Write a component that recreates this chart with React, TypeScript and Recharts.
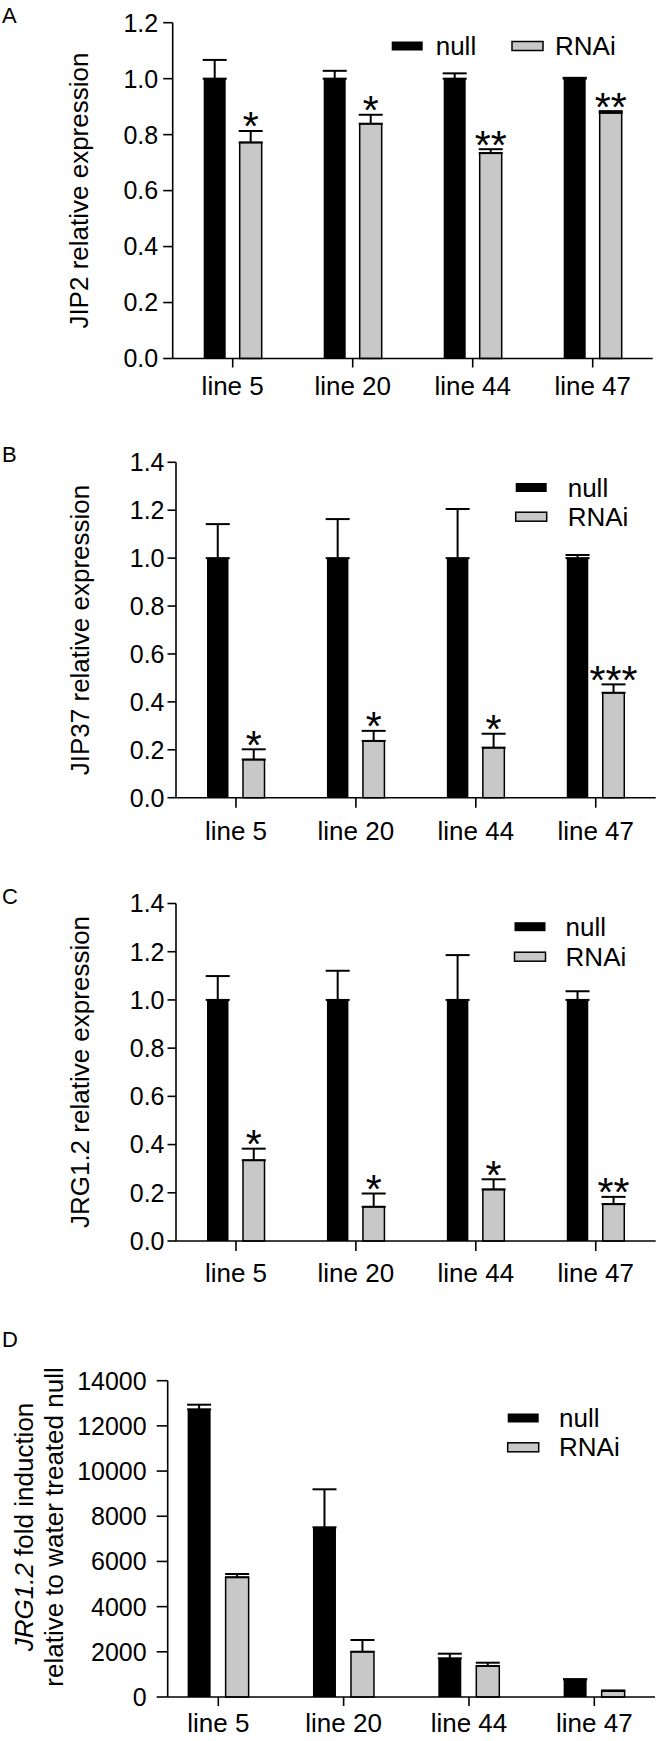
import React from 'react';
import { BarChart, Bar, XAxis, YAxis, ErrorBar, LabelList, Legend } from 'recharts';

const FONT = '"Liberation Sans", Arial, Helvetica, sans-serif';
const W = 657;
const GRAY = '#c8c8c8';

// ---------- data ----------
const categories = ['line 5', 'line 20', 'line 44', 'line 47'];
const seriesNames = ['null', 'RNAi'];

// Panel A – JIP2
const jip2Null = [1.0, 1.0, 1.0, 1.0];
const jip2NullErr = [0.067, 0.028, 0.019, 0.003];
const jip2Rnai = [0.772, 0.839, 0.734, 0.878];
const jip2RnaiErr = [0.041, 0.032, 0.014, 0.006];
const jip2Stars = ['*', '*', '**', '**'];

// Panel B – JIP37
const jip37Null = [1.0, 1.0, 1.0, 1.0];
const jip37NullErr = [0.142, 0.163, 0.205, 0.013];
const jip37Rnai = [0.159, 0.237, 0.209, 0.438];
const jip37RnaiErr = [0.043, 0.042, 0.058, 0.035];
const jip37Stars = ['*', '*', '*', '***'];

// Panel C – JRG1.2
const jrgNull = [1.0, 1.0, 1.0, 1.0];
const jrgNullErr = [0.099, 0.121, 0.186, 0.036];
const jrgRnai = [0.335, 0.142, 0.214, 0.153];
const jrgRnaiErr = [0.048, 0.055, 0.042, 0.03];
const jrgStars = ['*', '*', '*', '**'];

// Panel D – JRG1.2 fold induction
const foldNull = [12734, 7511, 1713, 783];
const foldNullErr = [204, 1682, 204, 0];
const foldRnai = [5298, 2005, 1372, 265];
const foldRnaiErr = [146, 518, 146, 25];
const foldStars = ['', '', '', ''];

const ticks12 = [0, 0.2, 0.4, 0.6, 0.8, 1.0, 1.2];
const ticks14 = [0, 0.2, 0.4, 0.6, 0.8, 1.0, 1.2, 1.4];
const ticksFold = [0, 2000, 4000, 6000, 8000, 10000, 12000, 14000];

type Row = { line: string; nullV: number; nullErr: number; rnai: number; rnaiErr: number; stars: string };

function buildRows(n: number[], ne: number[], r: number[], re: number[], s: string[]): Row[] {
  return categories.map((c, i) => ({ line: c, nullV: n[i], nullErr: ne[i], rnai: r[i], rnaiErr: re[i], stars: s[i] }));
}

const AX = { stroke: '#000', strokeWidth: 1.6 };

type LegendItem = { sx: number; tx: number; cy: number };

function makeLegend(items: LegendItem[], h: number) {
  return (props: any) => {
    const payload = [...(props.payload || [])].sort(
      (a: any, b: any) => seriesNames.indexOf(a.value) - seriesNames.indexOf(b.value)
    );
    return (
      <svg width={W} height={h} style={{ position: 'absolute', left: 0, top: 0, overflow: 'visible' }}>
        {payload.map((p: any, i: number) => {
          const c = items[i];
          const isR = p.value === 'RNAi';
          return (
            <g key={i}>
              <rect x={c.sx} y={c.cy - 4.5} width={31} height={9} fill={isR ? GRAY : '#000'} stroke={isR ? '#000' : 'none'} strokeWidth={1.5} />
              <text x={c.tx} y={c.cy + 9} fontSize={26} fontFamily={FONT} fill="#000">{p.value}</text>
            </g>
          );
        })}
      </svg>
    );
  };
}

function makeStar(rows: Row[]) {
  return (props: any) => {
    const vb = props.viewBox || props;
    const idx = props.index;
    const row = rows[idx];
    if (!row || !props.value) return null;
    const { x, y, width, height } = vb;
    const pxPer = row.rnai ? height / row.rnai : 0;
    const errTop = y - row.rnaiErr * pxPer;
    return (
      <text x={x + width / 2} y={errTop + 9.5} textAnchor="middle" fontSize={41} fontFamily={FONT} fill="#000">
        {props.value}
      </text>
    );
  };
}

type PanelProps = {
  top: number;
  h: number;
  plot: { l: number; r: number; t: number; b: number };
  rows: Row[];
  yMax: number;
  yTicks: number[];
  fmt: (v: number) => string;
  yTick: { size: number; margin: number };
  xTick: { size: number; margin: number };
  barSize: number;
  barGap: number;
  pad?: { left: number; right: number };
  legend: LegendItem[];
  yLabel: React.ReactNode;
};

function Panel(p: PanelProps) {
  const yW = 100;
  const xH = 40;
  const margin = {
    top: p.plot.t - p.top,
    left: p.plot.l - yW,
    right: W - p.plot.r,
    bottom: p.top + p.h - p.plot.b - xH,
  };
  return (
    <div style={{ position: 'absolute', left: 0, top: p.top, width: W, height: p.h }}>
      <BarChart width={W} height={p.h} data={p.rows} margin={margin} barGap={p.barGap} style={{ fontFamily: FONT }}>
        <XAxis
          dataKey="line"
          height={xH}
          interval={0}
          tickSize={p.xTick.size}
          tickMargin={p.xTick.margin}
          tick={{ fontSize: 26, fill: '#000', fontFamily: FONT }}
          axisLine={AX}
          tickLine={AX}
          padding={p.pad || { left: 0, right: 0 }}
        />
        <XAxis xAxisId="top" orientation="top" dataKey="line" height={0} tick={false} tickLine={false} axisLine={AX} />
        <YAxis
          type="number"
          width={yW}
          domain={[0, p.yMax]}
          ticks={p.yTicks}
          interval={0}
          tickFormatter={p.fmt}
          tickSize={p.yTick.size}
          tickMargin={p.yTick.margin}
          tick={{ fontSize: 25, fill: '#000', fontFamily: FONT }}
          axisLine={AX}
          tickLine={AX}
          label={{ content: () => p.yLabel }}
        />
        <YAxis yAxisId="right" orientation="right" width={0} tick={false} tickLine={false} axisLine={AX} />
        <Legend
          verticalAlign="middle"
          align="center"
          layout="horizontal"
          wrapperStyle={{ left: 0, top: 0, width: W, height: p.h, pointerEvents: 'none' }}
          content={makeLegend(p.legend, p.h)}
        />
        <Bar dataKey="nullV" name="null" fill="#000" barSize={p.barSize} isAnimationActive={false}>
          <ErrorBar dataKey={(d: Row) => [0, d.nullErr]} width={12} strokeWidth={2} stroke="#000" direction="y" isAnimationActive={false} />
        </Bar>
        <Bar dataKey="rnai" name="RNAi" fill={GRAY} stroke="#000" strokeWidth={1.5} barSize={p.barSize} isAnimationActive={false}>
          <ErrorBar dataKey={(d: Row) => [0, d.rnaiErr]} width={12} strokeWidth={2} stroke="#000" direction="y" isAnimationActive={false} />
          <LabelList dataKey="stars" content={makeStar(p.rows)} />
        </Bar>
      </BarChart>
    </div>
  );
}

function RotLabel({ x, y, children }: { x: number; y: number; children: React.ReactNode }) {
  return (
    <text x={x} y={y} transform={`rotate(-90, ${x}, ${y})`} textAnchor="middle" fontSize={26} fontFamily={FONT} fill="#000">
      {children}
    </text>
  );
}

const fmt1 = (v: number) => v.toFixed(1);
const fmt0 = (v: number) => String(v);

export default function App() {
  const rowsA = buildRows(jip2Null, jip2NullErr, jip2Rnai, jip2RnaiErr, jip2Stars);
  const rowsB = buildRows(jip37Null, jip37NullErr, jip37Rnai, jip37RnaiErr, jip37Stars);
  const rowsC = buildRows(jrgNull, jrgNullErr, jrgRnai, jrgRnaiErr, jrgStars);
  const rowsD = buildRows(foldNull, foldNullErr, foldRnai, foldRnaiErr, foldStars);

  return (
    <div style={{ position: 'absolute', left: 0, top: 0, width: W, height: 1741, background: '#fff', fontFamily: FONT }}>
      <Panel
        top={0}
        h={420}
        plot={{ l: 172.7, r: 652.7, t: 22.7, b: 358.5 }}
        rows={rowsA}
        yMax={1.2}
        yTicks={ticks12}
        fmt={fmt1}
        yTick={{ size: 9.5, margin: 5 }}
        xTick={{ size: 9, margin: 9 }}
        barSize={22}
        barGap={14}
        legend={[
          { sx: 391.7, tx: 435.7, cy: 46 },
          { sx: 512, tx: 555, cy: 46 },
        ]}
        yLabel={<RotLabel x={88} y={190.6}>JIP2 relative expression</RotLabel>}
      />
      <Panel
        top={420}
        h={440}
        plot={{ l: 176, r: 655.7, t: 462.3, b: 797.7 }}
        rows={rowsB}
        yMax={1.4}
        yTicks={ticks14}
        fmt={fmt1}
        yTick={{ size: 8.5, margin: 3 }}
        xTick={{ size: 10, margin: 14 }}
        barSize={21.5}
        barGap={14.5}
        legend={[
          { sx: 515.7, tx: 567.7, cy: 67.5 },
          { sx: 515.7, tx: 567.7, cy: 96.7 },
        ]}
        yLabel={<RotLabel x={89} y={210}>JIP37 relative expression</RotLabel>}
      />
      <Panel
        top={860}
        h={440}
        plot={{ l: 176, r: 655.7, t: 903.5, b: 1241 }}
        rows={rowsC}
        yMax={1.4}
        yTicks={ticks14}
        fmt={fmt1}
        yTick={{ size: 8.5, margin: 3 }}
        xTick={{ size: 10, margin: 13 }}
        barSize={21.5}
        barGap={14.5}
        legend={[
          { sx: 514.5, tx: 565.6, cy: 66.7 },
          { sx: 514.5, tx: 565.6, cy: 96.7 },
        ]}
        yLabel={<RotLabel x={89} y={212}>JRG1.2 relative expression</RotLabel>}
      />
      <Panel
        top={1300}
        h={441}
        plot={{ l: 167.7, r: 655, t: 1380.7, b: 1697 }}
        rows={rowsD}
        yMax={14000}
        yTicks={ticksFold}
        fmt={fmt0}
        yTick={{ size: 11, margin: 10 }}
        xTick={{ size: 9, margin: 8 }}
        barSize={23}
        barGap={15}
        pad={{ left: -12.07, right: -1.97 }}
        legend={[
          { sx: 507.7, tx: 559, cy: 118 },
          { sx: 507.7, tx: 559, cy: 147.3 },
        ]}
        yLabel={
          <g>
            <RotLabel x={33.3} y={227}>
              <tspan fontStyle="italic">JRG1.2</tspan>
              <tspan> fold induction</tspan>
            </RotLabel>
            <RotLabel x={63.3} y={227}>relative to water treated null</RotLabel>
          </g>
        }
      />
      <svg width={W} height={1741} style={{ position: 'absolute', left: 0, top: 0, pointerEvents: 'none' }}>
        <text x={2} y={23} fontSize={22} fontFamily={FONT} fill="#000">A</text>
        <text x={2} y={462} fontSize={22} fontFamily={FONT} fill="#000">B</text>
        <text x={2} y={903.5} fontSize={22} fontFamily={FONT} fill="#000">C</text>
        <text x={2} y={1347} fontSize={22} fontFamily={FONT} fill="#000">D</text>
      </svg>
    </div>
  );
}
